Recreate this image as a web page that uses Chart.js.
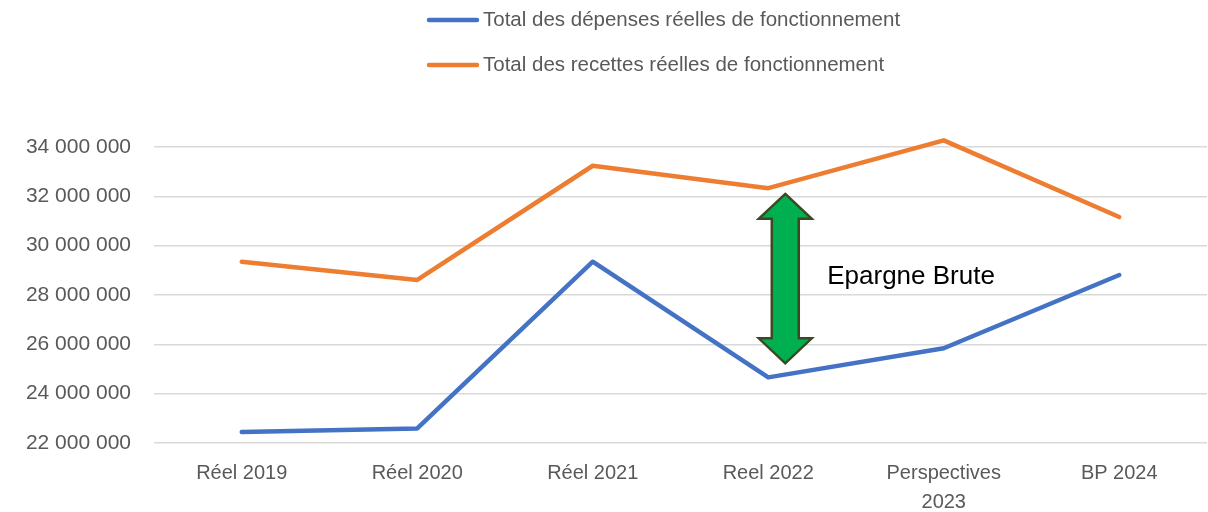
<!DOCTYPE html>
<html>
<head>
<meta charset="utf-8">
<script src="https://cdn.jsdelivr.net/npm/chart.js@4/dist/chart.umd.min.js"></script>
<style>
  html, body { margin: 0; padding: 0; background: #fff; }
  #wrap { width: 1208px; height: 512px; position: relative; }
</style>
</head>
<body>
<div id="wrap"><canvas id="c"></canvas></div>
<script>
const categories = ["Réel 2019", "Réel 2020", "Réel 2021", "Reel 2022", ["Perspectives", "2023"], "BP 2024"];
const depenses = [22450000, 22590000, 29350000, 24660000, 25840000, 28810000];
const recettes = [29350000, 28610000, 33240000, 32330000, 34270000, 31160000];
const seriesLabels = ["Total des dépenses réelles de fonctionnement", "Total des recettes réelles de fonctionnement"];
const yMin = 22000000, yMax = 34000000, yStep = 2000000;
// annotation (in data units)
const arrowX = 3.097;
const arrowTop = 32100000;
const arrowBottom = 25230000;
const noteText = "Epargne Brute";
const noteX = 3.336;
const noteY = 28730000;

const FONT = "'Liberation Sans', Arial, sans-serif";
const GREY = "#595959";

const legendPlugin = {
  id: 'customLegend',
  afterDraw(chart) {
    const ctx = chart.ctx;
    ctx.save();
    chart.data.datasets.forEach((ds, i) => {
      const y = 20 + i * 45;
      ctx.strokeStyle = ds.borderColor;
      ctx.lineWidth = 4.5;
      ctx.lineCap = 'round';
      ctx.beginPath();
      ctx.moveTo(429, y);
      ctx.lineTo(477, y);
      ctx.stroke();
      ctx.fillStyle = GREY;
      ctx.font = "20.5px " + FONT;
      ctx.textAlign = 'left';
      ctx.textBaseline = 'middle';
      ctx.fillText(ds.label, 483, y);
    });
    ctx.restore();
  }
};

const arrowPlugin = {
  id: 'arrowNote',
  afterDatasetsDraw(chart) {
    const xs = chart.scales.x, ys = chart.scales.y;
    const ctx = chart.ctx;
    const x = xs.getPixelForValue(arrowX);
    const t = ys.getPixelForValue(arrowTop);
    const b = ys.getPixelForValue(arrowBottom);
    const hw = 26.5, hh = 25, sw = 13.5;
    ctx.save();
    ctx.beginPath();
    ctx.moveTo(x, t);
    ctx.lineTo(x + hw, t + hh);
    ctx.lineTo(x + sw, t + hh);
    ctx.lineTo(x + sw, b - hh);
    ctx.lineTo(x + hw, b - hh);
    ctx.lineTo(x, b);
    ctx.lineTo(x - hw, b - hh);
    ctx.lineTo(x - sw, b - hh);
    ctx.lineTo(x - sw, t + hh);
    ctx.lineTo(x - hw, t + hh);
    ctx.closePath();
    ctx.fillStyle = '#00B050';
    ctx.fill();
    ctx.lineWidth = 2.5;
    ctx.lineJoin = 'miter';
    ctx.strokeStyle = '#3B4A22';
    ctx.stroke();
    ctx.fillStyle = '#000';
    ctx.font = "26px " + FONT;
    ctx.textAlign = 'left';
    ctx.textBaseline = 'middle';
    ctx.fillText(noteText, xs.getPixelForValue(noteX), ys.getPixelForValue(noteY));
    ctx.restore();
  }
};

new Chart(document.getElementById('c'), {
  type: 'line',
  data: {
    labels: categories,
    datasets: [
      { label: seriesLabels[0], data: depenses, borderColor: '#4472C4', backgroundColor: '#4472C4', borderWidth: 4.5, pointRadius: 0, tension: 0, borderCapStyle: 'round', borderJoinStyle: 'round', clip: false },
      { label: seriesLabels[1], data: recettes, borderColor: '#ED7D31', backgroundColor: '#ED7D31', borderWidth: 4.5, pointRadius: 0, tension: 0, borderCapStyle: 'round', borderJoinStyle: 'round', clip: false }
    ]
  },
  options: {
    responsive: true,
    maintainAspectRatio: false,
    animation: false,
    layout: { padding: { top: 147, right: 1, bottom: 0, left: 0 } },
    plugins: { legend: { display: false }, tooltip: { enabled: false } },
    scales: {
      x: {
        offset: true,
        grid: { display: false, drawTicks: false },
        border: { display: false },
        ticks: { color: GREY, font: { family: FONT, size: 20, lineHeight: 1.45 }, padding: 16, maxRotation: 0, autoSkip: false },
        afterFit(s) { s.height = 69; }
      },
      y: {
        min: yMin, max: yMax,
        grid: { color: '#D9D9D9', lineWidth: 1.5, drawTicks: false },
        border: { display: false },
        ticks: {
          stepSize: yStep, color: GREY, padding: 23,
          font: { family: FONT, size: 21 },
          callback: v => String(v).replace(/\B(?=(\d{3})+(?!\d))/g, ' ')
        },
        afterFit(s) { s.width = 154; }
      }
    }
  },
  plugins: [legendPlugin, arrowPlugin]
});
</script>
</body>
</html>
